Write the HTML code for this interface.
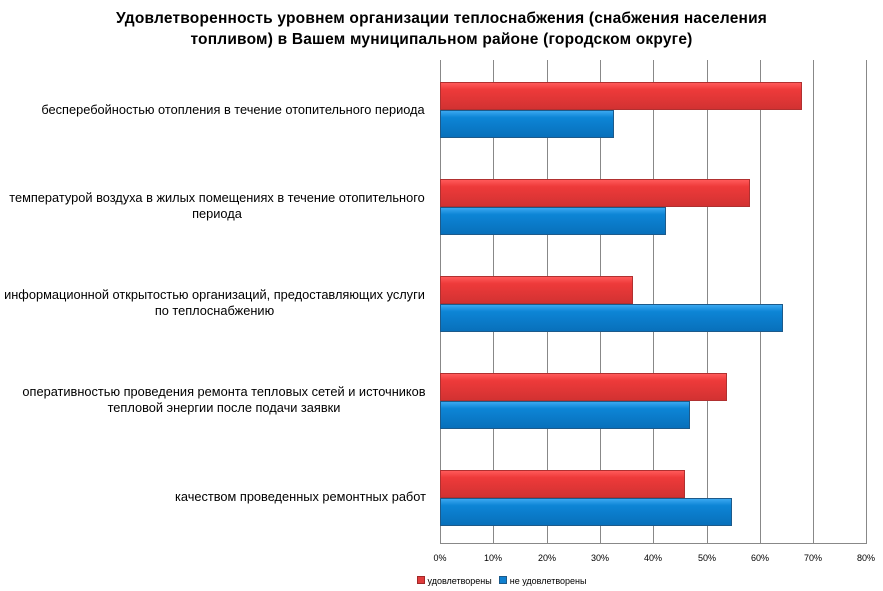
<!DOCTYPE html>
<html><head><meta charset="utf-8"><style>
body{margin:0;background:#fff;width:883px;height:591px;overflow:hidden;font-family:"Liberation Sans",sans-serif;}
.t{position:absolute;left:0;width:883px;text-align:center;top:8px;font-weight:bold;font-size:15.5px;line-height:21px;color:#000;letter-spacing:0.2px}
.l{position:absolute;text-align:center;font-size:12.8px;line-height:16px;color:#000;white-space:nowrap}
.r{position:absolute;left:440px;height:28px;background:linear-gradient(#ff5a5a,#ee3a3a 25%,#d23232);border:1px solid #b03030;box-sizing:border-box}
.b{position:absolute;left:440px;height:28px;background:linear-gradient(#3aa8f0,#0d85d6 25%,#0870bb);border:1px solid #1d5a8a;box-sizing:border-box}
.g{position:absolute;top:60px;height:484px;width:1px;background:#888}
.x{position:absolute;top:553px;font-size:9px;width:40px;text-align:center}
</style></head><body>
<div class="t">Удовлетворенность уровнем организации теплоснабжения (снабжения населения<br>топливом) в Вашем муниципальном районе (городском округе)</div>
<div class="g" style="left:440px"></div><div class="g" style="left:493px"></div><div class="g" style="left:547px"></div><div class="g" style="left:600px"></div><div class="g" style="left:653px"></div><div class="g" style="left:707px"></div><div class="g" style="left:760px"></div><div class="g" style="left:813px"></div><div class="g" style="left:866px"></div>
<div style="position:absolute;left:440px;top:543px;width:427px;height:1px;background:#888"></div>
<div class="x" style="left:420px">0%</div><div class="x" style="left:473px">10%</div><div class="x" style="left:527px">20%</div><div class="x" style="left:580px">30%</div><div class="x" style="left:633px">40%</div><div class="x" style="left:687px">50%</div><div class="x" style="left:740px">60%</div><div class="x" style="left:793px">70%</div><div class="x" style="left:846px">80%</div>
<div class="r" style="top:82px;width:362px"></div><div class="b" style="top:110px;width:174px"></div>
<div class="r" style="top:179px;width:310px"></div><div class="b" style="top:207px;width:226px"></div>
<div class="r" style="top:276px;width:193px"></div><div class="b" style="top:304px;width:343px"></div>
<div class="r" style="top:373px;width:287px"></div><div class="b" style="top:401px;width:250px"></div>
<div class="r" style="top:470px;width:245px"></div><div class="b" style="top:498px;width:292px"></div>
<div class="l" style="top:102px;left:40px;width:386px">бесперебойностью отопления в течение отопительного периода</div>
<div class="l" style="top:190px;left:8px;width:418px">температурой воздуха в жилых помещениях в течение отопительного<br>периода</div>
<div class="l" style="top:287px;left:3px;width:423px">информационной открытостью организаций, предоставляющих услуги<br>по теплоснабжению</div>
<div class="l" style="top:384px;left:22px;width:404px">оперативностью проведения ремонта тепловых сетей и источников<br>тепловой энергии после подачи заявки</div>
<div class="l" style="top:489px;left:175px;width:250px">качеством проведенных ремонтных работ</div>
<div style="position:absolute;top:575px;left:417px;font-size:9px;line-height:12px">
<span style="display:inline-block;width:6px;height:6px;background:#e03c3c;border:1px solid #a02828"></span> удовлетворены &nbsp; <span style="display:inline-block;width:6px;height:6px;background:#1080d0;border:1px solid #1d5a8a"></span> не удовлетворены</div>
</body></html>
